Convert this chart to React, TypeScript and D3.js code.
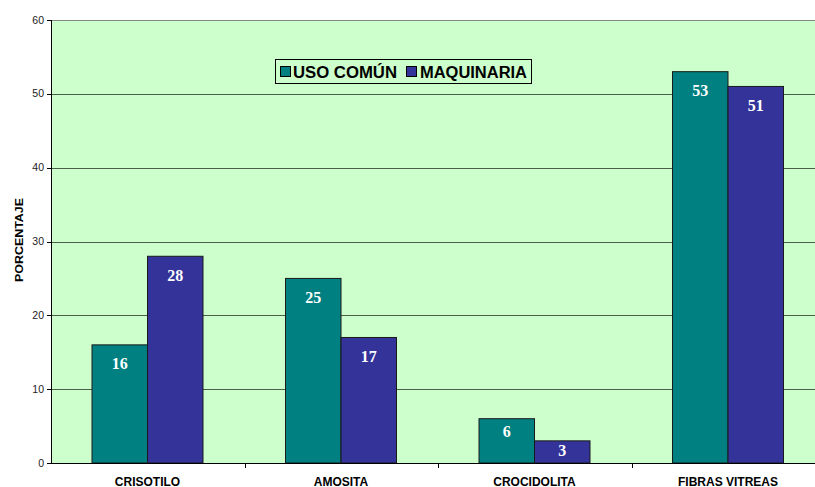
import React from "react";
import * as d3 from "d3";

const categories = ["CRISOTILO", "AMOSITA", "CROCIDOLITA", "FIBRAS VITREAS"];
const usoComun = [16, 25, 6, 53];
const maquinaria = [28, 17, 3, 51];
const seriesNames = ["USO COMÚN", "MAQUINARIA"];
const yTicks = [0, 10, 20, 30, 40, 50, 60];

const colors = ["#008080", "#333399"];

export default function App() {
  const W = 815, H = 487;
  const left = 51, top = 20, bottom = 463;
  const bandW = 193.5;
  const right = left + bandW * categories.length;
  const x = d3.scaleBand<string>().domain(categories).range([left, right]).paddingInner(0).paddingOuter(0);
  const y = d3.scaleLinear().domain([0, 60]).range([bottom, top]);
  const barW = 55.5;
  const offset = 41;
  const series = [usoComun, maquinaria];
  return (
    <svg width={W} height={H} style={{ position: "absolute", left: 0, top: 0 }} fontFamily="Arial, 'Liberation Sans', sans-serif">
      <rect x={left} y={top} width={right - left} height={bottom - top} fill="#CCFFCC" />
      <line x1={left} x2={right} y1={top + 0.5} y2={top + 0.5} stroke="#888" strokeWidth={1} />
      {yTicks.slice(1, -1).map(t => (
        <line key={t} x1={left} x2={right} y1={Math.round(y(t)) + 0.5} y2={Math.round(y(t)) + 0.5} stroke="#4a5e4a" strokeWidth={1} />
      ))}
      {series.map((vals, si) =>
        categories.map((c, ci) => {
          const x0 = (x(c) as number) + offset + si * barW;
          const h = bottom - y(vals[ci]);
          const lab = Math.min(24.5, 12.5 + h * 0.14);
          return (
            <g key={si + "-" + ci}>
              <rect x={x0} y={y(vals[ci])} width={barW} height={h} fill={colors[si]} stroke="#1a1a1a" strokeWidth={1} />
              <text x={x0 + barW / 2} y={y(vals[ci]) + lab} textAnchor="middle" fill="#fff" fontFamily="'Liberation Serif', 'Times New Roman', serif" fontWeight="bold" fontSize={16}>{vals[ci]}</text>
            </g>
          );
        })
      )}
      <line x1={left + 0.5} x2={left + 0.5} y1={top} y2={bottom} stroke="#000" strokeWidth={1} />
      <line x1={left} x2={right} y1={bottom + 0.5} y2={bottom + 0.5} stroke="#000" strokeWidth={1} />
      {yTicks.map(t => (
        <g key={t}>
          <line x1={left - 4} x2={left} y1={Math.round(y(t)) + 0.5} y2={Math.round(y(t)) + 0.5} stroke="#000" />
          <text x={left - 7} y={y(t) + 3.5} textAnchor="end" fontSize={10.5} fill="#222">{t}</text>
        </g>
      ))}
      {categories.map((c, i) => (
        <g key={c}>
          {i > 0 && <line x1={Math.round(x(c) as number) + 0.5} x2={Math.round(x(c) as number) + 0.5} y1={bottom} y2={bottom + 5} stroke="#000" />}
          <text x={(x(c) as number) + offset + barW} y={485.5} textAnchor="middle" fontSize={12} fontWeight="bold" fill="#000">{c}</text>
        </g>
      ))}
      <text transform={`translate(22.5,240) rotate(-90)`} textAnchor="middle" fontSize={11} fontWeight="bold" textLength={84} lengthAdjust="spacingAndGlyphs">PORCENTAJE</text>
      <g>
        <rect x={275.5} y={59.5} width={256} height={24} fill="#CCFFCC" stroke="#000" strokeWidth={1} />
        <rect x={280.5} y={66.5} width={10} height={10} fill={colors[0]} stroke="#000" />
        <text x={293} y={78} fontSize={16} fontWeight="bold" textLength={104} lengthAdjust="spacingAndGlyphs">{seriesNames[0]}</text>
        <rect x={406.5} y={66.5} width={10} height={10} fill={colors[1]} stroke="#000" />
        <text x={420} y={78} fontSize={16} fontWeight="bold" textLength={107} lengthAdjust="spacingAndGlyphs">{seriesNames[1]}</text>
      </g>
    </svg>
  );
}
